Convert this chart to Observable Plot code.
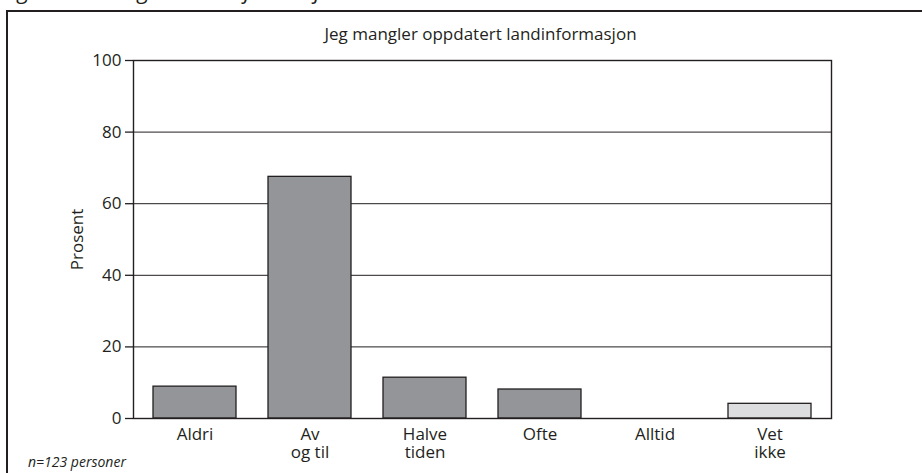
<!DOCTYPE html>
<html><head><meta charset="utf-8">
<script src="https://cdn.jsdelivr.net/npm/d3@7"></script>
<script src="https://cdn.jsdelivr.net/npm/@observablehq/plot@0.6"></script>
<style>
body{margin:0;background:#fff;font-family:"Open Sans",sans-serif;color:#231f20;overflow:hidden;width:922px;height:473px;position:relative}
#figtitle{position:absolute;left:1px;top:-20px;font-size:22.5px;line-height:22px;font-style:italic;white-space:nowrap}
#frame{position:absolute;left:6px;top:10px;width:940px;height:480px;border-left:2.5px solid #231f20;border-top:2px solid #231f20}
#chart{position:absolute;left:0;top:0}
#inner{position:absolute;left:480.5px;top:25px;transform:translateX(-50%);font-size:17px;line-height:17px;white-space:nowrap}
#caption{position:absolute;left:28px;top:455px;font-size:14px;line-height:14px;font-style:italic;white-space:nowrap}
</style></head>
<body>
<div id="figtitle">Figur 8.6 Mangler landinformasjon</div>
<div id="frame"></div>
<div id="chart"></div>
<div id="inner">Jeg mangler oppdatert landinformasjon</div>
<div id="caption">n=123 personer</div>
<script>
const categories = ["Aldri", "Av\nog til", "Halve\ntiden", "Ofte", "Alltid", "Vet\nikke"];
const values = [8.9, 67.5, 11.4, 8.1, 0, 4.1];
const yTicks = [0, 20, 40, 60, 80, 100];
const gridLines = [20, 40, 60, 80];

const data = categories.map((c, i) => ({category: c, value: values[i]}));
const dark = "#231f20";

const plot = Plot.plot({
  width: 922,
  height: 473,
  marginLeft: 133,
  marginRight: 91,
  marginTop: 60,
  marginBottom: 55,
  style: {fontFamily: "Open Sans, sans-serif", fontSize: "17px", color: dark, background: "transparent"},
  x: {domain: categories, paddingInner: 0.28, paddingOuter: 0.17, label: null},
  y: {domain: [0, 100], label: null},
  marks: [
    Plot.ruleY(gridLines, {stroke: dark, strokeWidth: 1}),
    Plot.barY(data, {x: "category", y: "value", fill: d => d.category === "Vet\nikke" ? "#dcddde" : "#939598", stroke: dark, strokeWidth: 1.3}),
    Plot.axisY(yTicks, {tickSize: 8, tickPadding: 4, stroke: dark, strokeWidth: 1.3, label: "Prosent", labelAnchor: "center", labelArrow: "none", labelOffset: 63}),
    Plot.axisX({tickSize: 0, tickPadding: 8, lineHeight: 1.08}),
    Plot.frame({stroke: dark, strokeWidth: 1.4})
  ]
});
document.getElementById("chart").appendChild(plot);
</script>
</body></html>
